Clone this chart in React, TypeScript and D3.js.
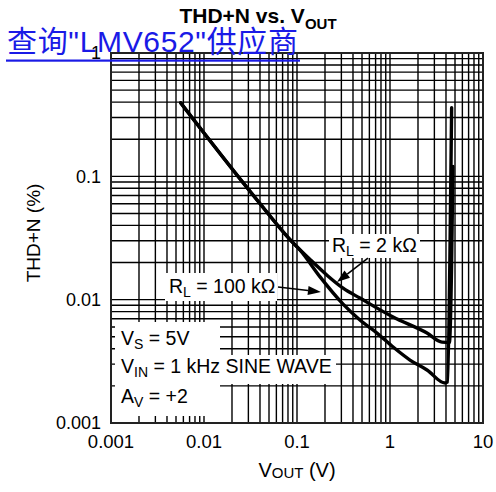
import { curveMonotoneX, line, scaleLog } from 'd3';
import React from 'react';

// V_OUT (V) values and THD+N (%) for each load
const rl2kVout = [0.0056, 0.0372, 0.0861, 0.138, 0.21, 0.313, 0.475, 1.08, 2.5, 3.62, 4.35, 4.6, 4.75];
const rl2kThd = [0.395, 0.0643, 0.0301, 0.0212, 0.0158, 0.0124, 0.0103, 0.00723, 0.00536, 0.00453, 0.0045, 0.02, 0.12];

const rl100kVout = [0.0056, 0.0372, 0.0861, 0.108, 0.177, 0.313, 0.475, 0.724, 1.08, 1.64, 2.5, 3.9, 4.15, 4.4, 4.6];
const rl100kThd = [0.395, 0.0643, 0.0301, 0.0252, 0.0153, 0.0092, 0.00684, 0.00536, 0.00413, 0.00324, 0.00269, 0.00211, 0.00215, 0.02, 0.36];

const xTickLabels = ['0.001', '0.01', '0.1', '1', '10'];
const yTickLabels = ['0.001', '0.01', '0.1', '1'];

const width = 496;
const height = 492;
const margin = { top: 53, right: 13, bottom: 69, left: 111 };

const font = 'Arial, "Liberation Sans", Helvetica, sans-serif';

const Arrow = ({ x1, y1, x2, y2 }: { x1: number; y1: number; x2: number; y2: number }) => {
	const a = Math.atan2(y2 - y1, x2 - x1);
	const len = 13;
	const hw = 4.5;
	const bx = x2 - len * Math.cos(a);
	const by = y2 - len * Math.sin(a);
	const px = -Math.sin(a) * hw;
	const py = Math.cos(a) * hw;
	return (
		<g>
			<line x1={x1} y1={y1} x2={bx} y2={by} stroke="black" strokeWidth={1.6} />
			<path d={`M${x2},${y2}L${bx + px},${by + py}L${bx - px},${by - py}Z`} fill="black" />
		</g>
	);
};

const App = () => {
	const innerRight = width - margin.right;
	const innerBottom = height - margin.bottom;

	const x = scaleLog().domain([0.001, 10]).range([margin.left, innerRight]);
	const y = scaleLog().domain([0.001, 1]).range([innerBottom, margin.top]);

	const mk = (vs: number[], ts: number[]) =>
		line<[number, number]>()
			.x(d => x(d[0]))
			.y(d => y(d[1]))
			.curve(curveMonotoneX)(vs.map((v, i) => [v, ts[i]]));

	const gridStroke = 1.4;
	const annSize = 19.5;
	const subSize = 14;

	return (
		<svg
			width={width}
			height={height}
			style={{ position: 'absolute', left: 0, top: 0, background: 'white' }}
			fontFamily={font}
		>
			{/* grid */}
			{x.ticks().map(t => (
				<line key={'x' + t} x1={x(t)} x2={x(t)} y1={margin.top} y2={innerBottom} stroke="black" strokeWidth={gridStroke} />
			))}
			{y.ticks().map(t => (
				<line key={'y' + t} y1={y(t)} y2={y(t)} x1={margin.left} x2={innerRight} stroke="black" strokeWidth={gridStroke} />
			))}
			<rect
				x={margin.left}
				y={margin.top}
				width={innerRight - margin.left}
				height={innerBottom - margin.top}
				fill="none"
				stroke="#222"
				strokeWidth={2}
			/>

			{/* label backgrounds */}
			<rect x={115} y={322} width={105} height={33} fill="white" />
			<rect x={115} y={355} width={221} height={29} fill="white" />
			<rect x={115} y={384} width={105} height={32} fill="white" />
			<rect x={165} y={273} width={112} height={28} fill="white" />
			<rect x={329} y={234} width={91} height={24} fill="white" />

			{/* curves */}
			<path d={mk(rl2kVout, rl2kThd) || ''} fill="none" stroke="black" strokeWidth={3.4} strokeLinejoin="round" strokeLinecap="round" />
			<path d={mk(rl100kVout, rl100kThd) || ''} fill="none" stroke="black" strokeWidth={3.4} strokeLinejoin="round" strokeLinecap="round" />

			{/* arrows */}
			<Arrow x1={x(0.579)} y1={y(0.0217)} x2={x(0.269)} y2={y(0.0139)} />
			<Arrow x1={x(0.0625)} y1={y(0.01265)} x2={x(0.181)} y2={y(0.01153)} />

			{/* annotations */}
			<text x={332} y={252} fontSize={annSize}>
				R<tspan fontSize={subSize} dy={4}>L</tspan>
				<tspan dy={-4}> = 2 kΩ</tspan>
			</text>
			<text x={169} y={293} fontSize={annSize}>
				R<tspan fontSize={subSize} dy={4}>L</tspan>
				<tspan dy={-4}> = 100 kΩ</tspan>
			</text>
			<text x={121} y={345} fontSize={annSize}>
				V<tspan fontSize={subSize} dy={4}>S</tspan>
				<tspan dy={-4}> = 5V</tspan>
			</text>
			<text x={121} y={373} fontSize={annSize}>
				V<tspan fontSize={subSize} dy={4}>IN</tspan>
				<tspan dy={-4}> = 1 kHz SINE WAVE</tspan>
			</text>
			<text x={121} y={403} fontSize={annSize}>
				A<tspan fontSize={subSize} dy={4}>V</tspan>
				<tspan dy={-4}> = +2</tspan>
			</text>

			{/* tick labels */}
			{x.ticks().filter(t => xTickLabels.includes(String(+t.toPrecision(3)))).map(t => (
				<text key={'xl' + t} x={x(t)} y={innerBottom + 25} fontSize={18.5} textAnchor="middle">
					{String(+t.toPrecision(3))}
				</text>
			))}
			{yTickLabels.map(l => (
				<text key={'yl' + l} x={margin.left - 10} y={y(+l)} dy="0.35em" fontSize={18} textAnchor="end">
					{l}
				</text>
			))}

			{/* axis titles */}
			<text x={(margin.left + innerRight) / 2} y={477} fontSize={20} textAnchor="middle">
				V<tspan fontSize={15} dy={1}>OUT</tspan>
				<tspan dy={-1}> (V)</tspan>
			</text>
			<text transform={`translate(40,${(margin.top + innerBottom) / 2 - 5}) rotate(-90)`} fontSize={19} textAnchor="middle">
				THD+N (%)
			</text>

			{/* title */}
			<text x={258} y={23} fontSize={21} fontWeight="bold" textAnchor="middle">
				THD+N vs. V<tspan fontSize={15} dy={6}>OUT</tspan>
			</text>

			{/* overlay link */}
			<text
				x={7}
				y={52}
				fontSize={30}
				fill="#1a1ae6"
				textLength={291}
				fontFamily='"Liberation Sans", "Noto Sans CJK SC", sans-serif'
			>
				查询"LMV652"供应商
			</text>
			<rect x={6} y={59.5} width={294} height={2.2} fill="#1a1ae6" />
		</svg>
	);
};

export default App;
